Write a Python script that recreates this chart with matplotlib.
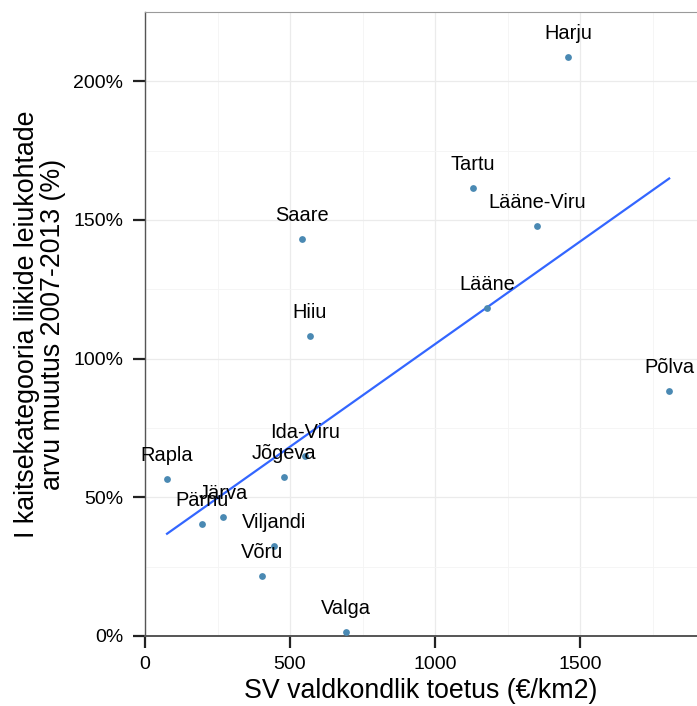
import numpy as np
import matplotlib
matplotlib.use("Agg")
import matplotlib.pyplot as plt
from matplotlib.ticker import FuncFormatter, MultipleLocator

plt.rcParams['font.family'] = ['Liberation Sans', 'DejaVu Sans']

regions = ["Harju", "Tartu", "Lääne-Viru", "Saare", "Lääne", "Hiiu", "Põlva",
           "Ida-Viru", "Jõgeva", "Rapla", "Järva", "Pärnu", "Viljandi", "Võru", "Valga"]
support = [1459, 1131, 1352, 541, 1179, 569, 1807,
           552, 479, 76, 269, 197, 445, 403, 693]
change = [208.7, 161.4, 147.7, 143.0, 118.4, 108.3, 88.4,
          65.0, 57.4, 56.7, 43.0, 40.4, 32.5, 21.7, 1.4]

x = np.array(support, dtype=float)
y = np.array(change, dtype=float)

fig = plt.figure(figsize=(6.97, 7.06), dpi=100)
ax = fig.add_axes([145/697, 1-636/706, (697-145)/697, (636-12)/706])

ax.set_xlim(0, 1903)
ax.set_ylim(0, 225)

ax.xaxis.set_major_locator(MultipleLocator(500))
ax.xaxis.set_minor_locator(MultipleLocator(250))
ax.yaxis.set_major_locator(MultipleLocator(50))
ax.yaxis.set_minor_locator(MultipleLocator(25))
ax.yaxis.set_major_formatter(FuncFormatter(lambda v, p: f"{int(v)}%"))

ax.grid(which='major', color='#ebebeb', linewidth=0.9)
ax.grid(which='minor', color='#f4f4f4', linewidth=0.6)
ax.set_axisbelow(True)

# regression line (linear fit)
b, a = np.polyfit(x, y, 1)
xs = np.linspace(x.min(), x.max(), 100)
ax.plot(xs, a + b*xs, color='#3366FF', linewidth=1.6, zorder=2)

ax.scatter(x, y, s=24, color='#4a89b3', zorder=3, linewidths=0)

for name, xi, yi in zip(regions, x, y):
    ax.annotate(name, (xi, yi), xytext=(0, 17), textcoords='offset points',
                ha='center', va='center', fontsize=14.4, color='black', zorder=4)

ax.spines['top'].set_color('#9a9a9a')
ax.spines['top'].set_linewidth(0.8)
ax.spines['right'].set_visible(False)
ax.spines['left'].set_color('#555555')
ax.spines['left'].set_linewidth(1.0)
ax.spines['bottom'].set_color('#555555')
ax.spines['bottom'].set_linewidth(1.4)

ax.tick_params(axis='both', which='major', length=8.5, width=1.6, color='#222222',
               labelsize=14, labelcolor='black')
ax.tick_params(axis='x', which='major', pad=6)
ax.tick_params(axis='y', which='major', pad=7)
ax.tick_params(axis='both', which='minor', length=0)

ax.set_xlabel("SV valdkondlik toetus (€/km2)", fontsize=19.3)
ax.set_ylabel("I kaitsekategooria liikide leiukohtade\narvu muutus 2007-2013 (%)",
              fontsize=19.3, linespacing=1.0)
ax.xaxis.set_label_coords(0.5, -(678 - 636) / 624)
ax.yaxis.set_label_coords((66 - 145) / 552, 0.5)

fig.savefig("out.png", dpi=100)
